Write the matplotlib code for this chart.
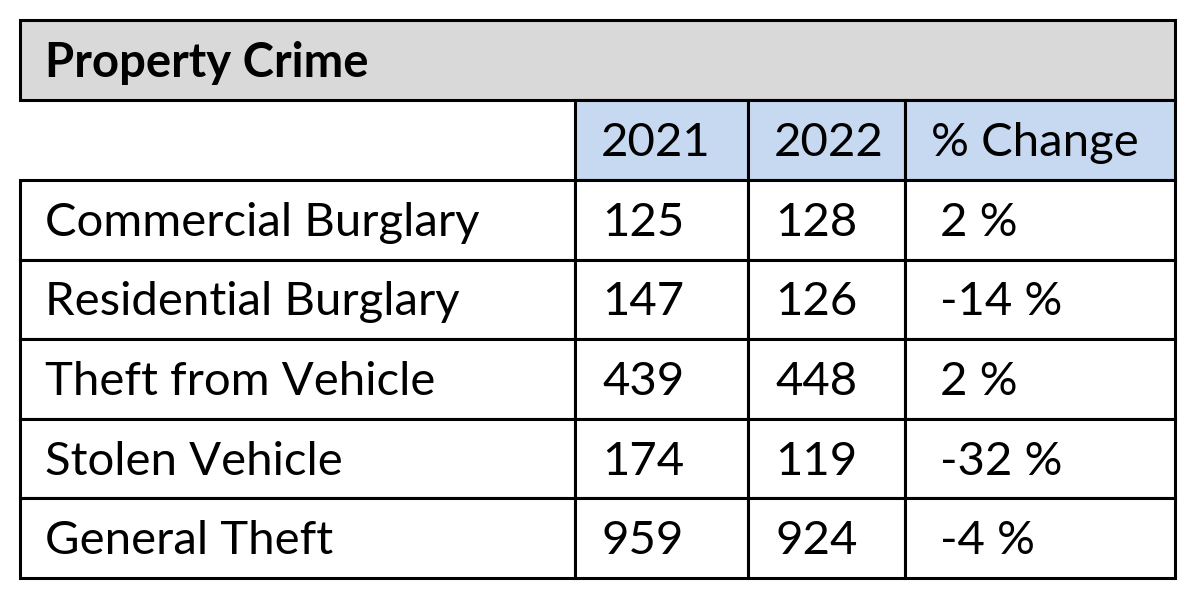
import matplotlib.pyplot as plt
from matplotlib.patches import Rectangle

title = "Property Crime"
columns = ["2021", "2022", "% Change"]
categories = ["Commercial Burglary", "Residential Burglary", "Theft from Vehicle",
              "Stolen Vehicle", "General Theft"]
values_2021 = [125, 147, 439, 174, 959]
values_2022 = [128, 126, 448, 119, 924]
pct_change = ["2 %", "-14 %", "2 %", "-32 %", "-4 %"]

plt.rcParams["font.family"] = ["Lato", "DejaVu Sans"]

fig = plt.figure(figsize=(12, 6.06), dpi=100)
ax = fig.add_axes([0, 0, 1, 1])
ax.set_xlim(0, 1200)
ax.set_ylim(606, 0)
ax.axis("off")

col_x = [20, 575, 748, 905, 1175]
title_top, title_bot = 20, 100
head_bot = 180
row_h = 79.6
lw = 2.2

# title band
ax.add_patch(Rectangle((col_x[0], title_top), col_x[-1] - col_x[0], title_bot - title_top,
                       facecolor="#d9d9d9", edgecolor="black", lw=lw))
ax.text(45, (title_top + title_bot) / 2 + 3, title, fontsize=34, fontweight="bold",
        va="center", ha="left")

# header
for i, col in enumerate(columns):
    x0, x1 = col_x[i + 1], col_x[i + 2]
    ax.add_patch(Rectangle((x0, title_bot), x1 - x0, head_bot - title_bot,
                           facecolor="#c6d9f0", edgecolor="black", lw=lw))
    ax.text(x0 + 26, (title_bot + head_bot) / 2 + 3, col, fontsize=34, va="center", ha="left")

# body rows
for r, cat in enumerate(categories):
    y0 = head_bot + r * row_h
    cells = [cat, str(values_2021[r]), str(values_2022[r]), pct_change[r]]
    for c, txt in enumerate(cells):
        x0, x1 = col_x[c], col_x[c + 1]
        ax.add_patch(Rectangle((x0, y0), x1 - x0, row_h, facecolor="white",
                               edgecolor="black", lw=lw))
        pad = 25 if c == 0 else (27 if c < 3 else 35)
        ax.text(x0 + pad, y0 + row_h / 2 + 3, txt, fontsize=34, va="center", ha="left")

fig.savefig("out.png", dpi=100, facecolor="white")
